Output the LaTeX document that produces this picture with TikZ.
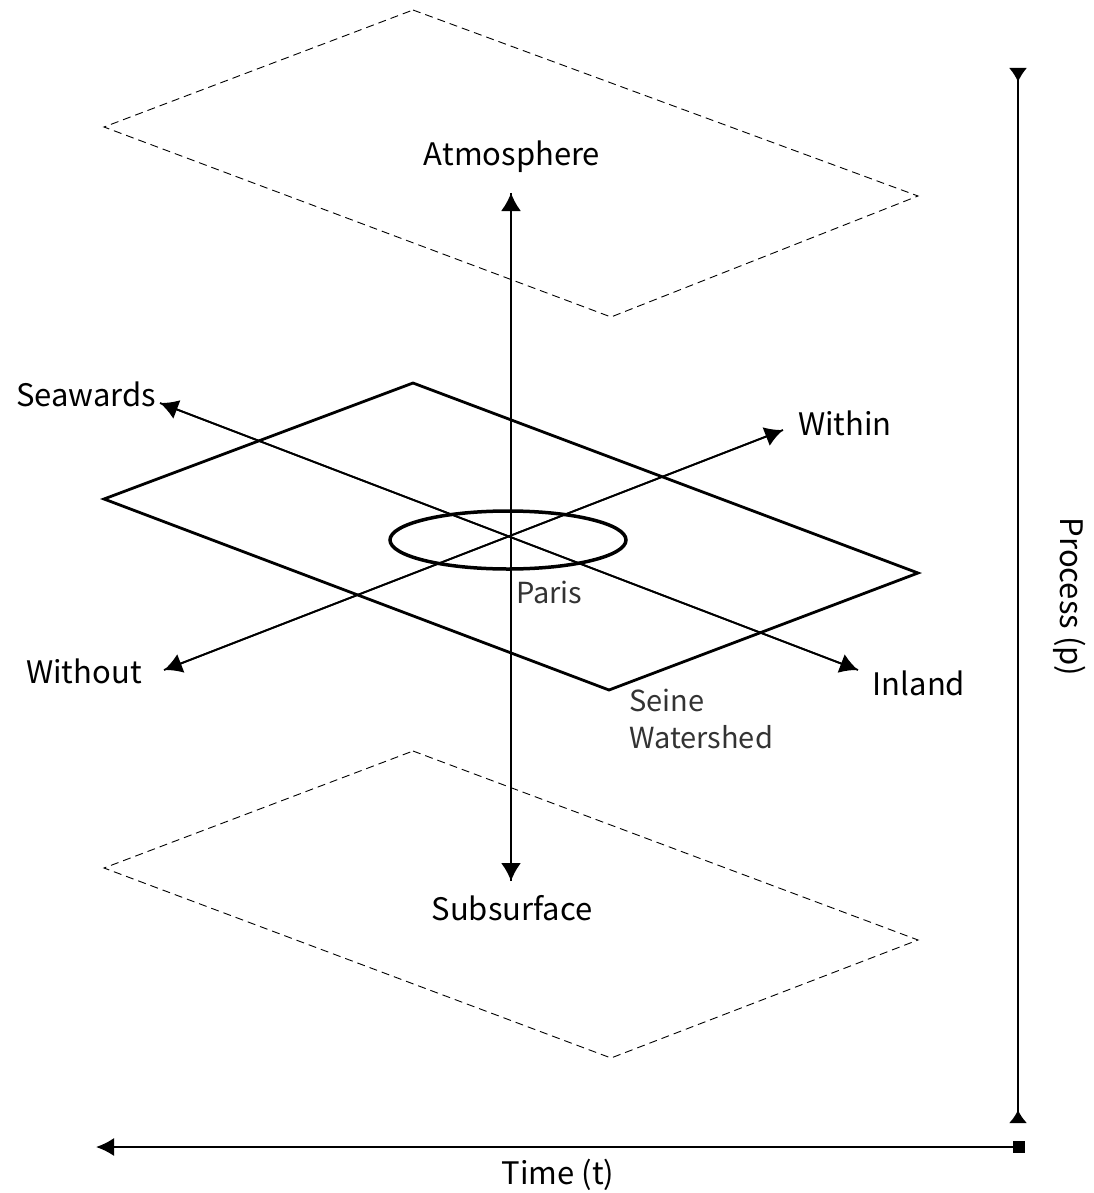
\documentclass[tikz,border=0pt]{standalone}
\usepackage{fontspec}
\setmainfont{Noto Sans CJK SC}
\usetikzlibrary{arrows.meta,shapes.geometric}
\begin{document}
\begin{tikzpicture}[x=1pt,y=-1pt,
  dashplane/.style={draw, line width=0.9pt, dash pattern=on 8pt off 5pt},
  solidplane/.style={draw, line width=2.8pt, line join=miter},
  axis/.style={line width=1.8pt, -{Latex[length=18pt,width=20pt]}},
  lbl/.style={font=\fontsize{31}{36}\selectfont, inner sep=0pt},
  light/.style={font=\fontsize{29}{37}\selectfont, text=black!80, inner sep=0pt}
]
\useasboundingbox (0,0) rectangle (1093,1193);
% planes
\coordinate (t1) at (413,10); \coordinate (t2) at (918,196); \coordinate (t3) at (611,317); \coordinate (t4) at (104,127);
\draw[dashplane] (t1) -- (t2) -- (t3) -- (t4) -- cycle;
\coordinate (m1) at (413,383); \coordinate (m2) at (918,573); \coordinate (m3) at (609,690); \coordinate (m4) at (104,499);
\draw[solidplane] (m1) -- (m2) -- (m3) -- (m4) -- cycle;
\coordinate (b1) at (413,751); \coordinate (b2) at (918,940); \coordinate (b3) at (611,1058); \coordinate (b4) at (104,868);
\draw[dashplane] (b1) -- (b2) -- (b3) -- (b4) -- cycle;
% Paris
\node[draw, ellipse, line width=3.5pt, minimum width=236pt, minimum height=58pt, inner sep=0pt] (paris) at (508,540) {};
% axis end points
\coordinate (up) at (511,193);
\coordinate (down) at (511,881);
\coordinate (sea) at (160,403);
\coordinate (inl) at (858,670);
\coordinate (wout) at (164,670);
\coordinate (win) at (783,430);
\draw[axis] (down) -- (up);
\draw[axis] (up) -- (down);
\draw[axis] (inl) -- (sea);
\draw[axis] (sea) -- (inl);
\draw[axis] (win) -- (wout);
\draw[axis] (wout) -- (win);
% labels
\node[lbl] (atm) at (512,157) {Atmosphere};
\node[lbl] (sub) at (512,908) {Subsurface};
\node[lbl] (seaw) at (86,394) {Seawards};
\node[lbl] (within) at (845,423) {Within};
\node[lbl] (without) at (84,671) {Without};
\node[lbl] (inland) at (919,683) {Inland};
\node[light, anchor=west] (parisl) at (516,592) {Paris};
\node[light, anchor=west] (seine1) at (629,700) {Seine};
\node[light, anchor=west] (seine2) at (629,737) {Watershed};
% process axis
\coordinate (ptop) at (1018,68);
\coordinate (pbot) at (1018,1123);
\draw[line width=1.8pt, {Latex[length=14pt,width=18pt,reversed]}-{Latex[length=13pt,width=18pt,reversed]}] (ptop) -- (pbot);
\node[lbl, rotate=-90] (proc) at (1070,597) {Process (p)};
% time axis
\coordinate (tl) at (96,1147);
\coordinate (tr) at (1025,1147);
\draw[line width=1.8pt, {Latex[length=18pt,width=18pt]}-{Square[length=12pt,width=12pt]}] (tl) -- (tr);
\node[lbl] (time) at (558,1175) {Time (t)};
\end{tikzpicture}
\end{document}
